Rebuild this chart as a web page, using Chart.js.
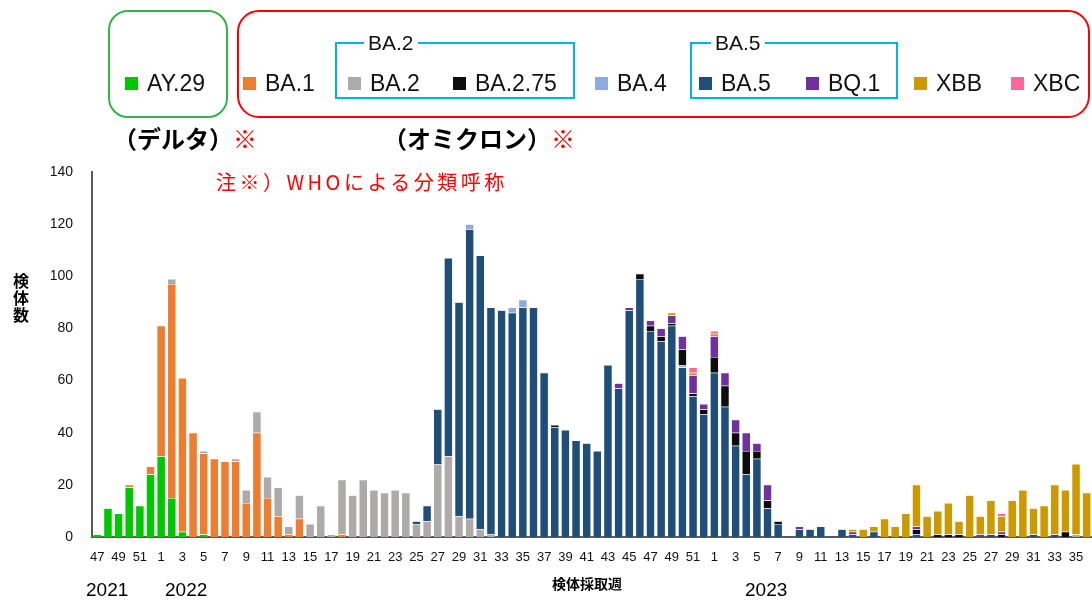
<!DOCTYPE html>
<html lang="ja">
<head>
<meta charset="UTF-8">
<title>検体採取週別 系統</title>
<script src="https://cdn.jsdelivr.net/npm/chart.js"></script>
<style>
    body { margin: 0; background: #fff; font-family: "Liberation Sans", Arial, "Noto Sans CJK JP", sans-serif; }
    #wrap { position: relative; width: 1092px; height: 601px; overflow: hidden; }
    #chart { position: absolute; left: 0; top: 0; }
    .abs { position: absolute; white-space: nowrap; }
    .box { position: absolute; box-sizing: border-box; }
    .sw { display: inline-block; width: 13px; height: 13px; margin-right: 9px; vertical-align: 1px; }
    .lg { font-size: 23px; color: #111; line-height: 26px; }
    .grp { font-size: 21px; color: #111; background: #fff; padding: 0 4px; line-height: 24px; }
    .jp { font-family: "Noto Sans CJK JP", sans-serif; }
</style>
</head>
<body>
<div id="wrap">
    <canvas id="chart" width="1092" height="601"></canvas>

    <!-- legend frames -->
    <div class="box" style="left:108px;top:10px;width:120px;height:108px;border:2.5px solid #33b24f;border-radius:20px;"></div>
    <div class="box" style="left:237px;top:10px;width:853px;height:108px;border:2.5px solid #ff0000;border-radius:22px;"></div>
    <div class="box" style="left:335px;top:42px;width:240px;height:57px;border:2px solid #00b0f0;"></div>
    <div class="box" style="left:690px;top:42px;width:208px;height:57px;border:2px solid #00b0f0;"></div>
    <div class="abs grp" style="left:364px;top:31px;">BA.2</div>
    <div class="abs grp" style="left:711px;top:31px;">BA.5</div>

    <!-- legend items -->
    <div class="abs lg" style="left:125px;top:70px;"><span class="sw" style="background:#00c800"></span>AY.29</div>
    <div class="abs lg" style="left:243px;top:70px;"><span class="sw" style="background:#ed7d31"></span>BA.1</div>
    <div class="abs lg" style="left:348px;top:70px;"><span class="sw" style="background:#aeaaaa"></span>BA.2</div>
    <div class="abs lg" style="left:453px;top:70px;"><span class="sw" style="background:#0d0d0d"></span>BA.2.75</div>
    <div class="abs lg" style="left:595px;top:70px;"><span class="sw" style="background:#8faadc"></span>BA.4</div>
    <div class="abs lg" style="left:699px;top:70px;"><span class="sw" style="background:#1f4e79"></span>BA.5</div>
    <div class="abs lg" style="left:806px;top:70px;"><span class="sw" style="background:#7030a0"></span>BQ.1</div>
    <div class="abs lg" style="left:914px;top:70px;"><span class="sw" style="background:#cc9900"></span>XBB</div>
    <div class="abs lg" style="left:1011px;top:70px;"><span class="sw" style="background:#ff6699"></span>XBC</div>

    <div class="abs jp" style="left:113px;top:120px;font-size:24px;font-weight:bold;">（デルタ）<span style="color:#ff0000;font-weight:normal;">※</span></div>
    <div class="abs jp" style="left:383px;top:120px;font-size:24px;font-weight:bold;">（オミクロン）<span style="color:#ff0000;font-weight:normal;">※</span></div>
    <div class="abs jp" style="left:216px;top:167px;font-size:20px;letter-spacing:3.5px;color:#ff0000;">注※）WHOによる分類呼称</div>

    <!-- axis titles and years -->
    <div class="abs jp" style="left:12px;top:273px;font-size:16px;font-weight:bold;writing-mode:vertical-rl;text-orientation:upright;line-height:18px;letter-spacing:1px;">検体数</div>
    <div class="abs jp" style="left:552px;top:573px;font-size:14px;font-weight:bold;">検体採取週</div>
    <div class="abs" style="left:86px;top:579px;font-size:19px;">2021</div>
    <div class="abs" style="left:165px;top:579px;font-size:19px;">2022</div>
    <div class="abs" style="left:745px;top:579px;font-size:19px;">2023</div>
</div>

<script>
    // 検体採取週 (2021 w47 - 2023 w36)
    const weeks = [
        47, 48, 49, 50, 51, 52,
        1, 2, 3, 4, 5, 6, 7, 8, 9, 10, 11, 12, 13, 14, 15, 16, 17, 18, 19, 20, 21, 22, 23, 24, 25, 26,
        27, 28, 29, 30, 31, 32, 33, 34, 35, 36, 37, 38, 39, 40, 41, 42, 43, 44, 45, 46, 47, 48, 49, 50, 51, 52,
        1, 2, 3, 4, 5, 6, 7, 8, 9, 10, 11, 12, 13, 14, 15, 16, 17, 18, 19, 20, 21, 22, 23, 24, 25, 26,
        27, 28, 29, 30, 31, 32, 33, 34, 35, 36
    ];
    // odd weeks are labelled
    const weekLabels = weeks.map(w => (w % 2 === 1 ? String(w) : ''));

    const ay29 = [
        1, 11, 9, 19, 12, 24, 31, 15, 2, 0,
        1, 0, 0, 0, 0, 0, 0, 0, 0, 0,
        0, 0, 0, 0, 0, 0, 0, 0, 0, 0,
        0, 0, 0, 0, 0, 0, 0, 0, 0, 0,
        0, 0, 0, 0, 0, 0, 0, 0, 0, 0,
        0, 0, 0, 0, 0, 0, 0, 0, 0, 0,
        0, 0, 0, 0, 0, 0, 0, 0, 0, 0,
        0, 0, 0, 0, 0, 0, 0, 0, 0, 0,
        0, 0, 0, 0, 0, 0, 0, 0, 0, 0,
        0, 0, 0, 0
    ];
    const ba1 = [
        0, 0, 0, 1, 0, 3, 50, 82, 59, 40,
        31, 30, 29, 29, 13, 40, 15, 8, 1, 7,
        0, 0, 0, 1, 0, 0, 0, 0, 0, 0,
        0, 0, 0, 0, 0, 0, 0, 0, 0, 0,
        0, 0, 0, 0, 0, 0, 0, 0, 0, 0,
        0, 0, 0, 0, 0, 0, 0, 0, 0, 0,
        0, 0, 0, 0, 0, 0, 0, 0, 0, 0,
        0, 0, 0, 0, 0, 0, 0, 0, 0, 0,
        0, 0, 0, 0, 0, 0, 0, 0, 0, 0,
        0, 0, 0, 0
    ];
    const ba2 = [
        0, 0, 0, 0, 0, 0, 0, 2, 0, 0,
        1, 0, 0, 1, 5, 8, 8, 11, 3, 9,
        5, 12, 1, 21, 16, 22, 18, 17, 18, 17,
        5, 6, 28, 31, 8, 7, 3, 1, 0, 0,
        0, 0, 0, 0, 0, 0, 0, 0, 0, 0,
        0, 0, 0, 0, 0, 0, 0, 0, 0, 0,
        0, 0, 0, 0, 0, 0, 0, 0, 0, 0,
        0, 0, 0, 0, 0, 0, 0, 0, 0, 0,
        0, 0, 0, 0, 0, 0, 0, 0, 0, 0,
        0, 0, 1, 0
    ];
    const ba5 = [
        0, 0, 0, 0, 0, 0, 0, 0, 0, 0,
        0, 0, 0, 0, 0, 0, 0, 0, 0, 0,
        0, 0, 0, 0, 0, 0, 0, 0, 0, 0,
        1, 6, 21, 76, 82, 111, 105, 87, 87, 86,
        88, 88, 63, 42, 41, 37, 36, 33, 66, 57,
        87, 99, 79, 75, 81, 65, 54, 47, 63, 50,
        35, 24, 30, 11, 5, 0, 3, 3, 4, 0,
        3, 1, 0, 2, 0, 0, 0, 1, 0, 0,
        0, 0, 0, 0, 1, 0, 0, 0, 1, 0,
        1, 0, 0, 0
    ];
    const ba4 = [
        0, 0, 0, 0, 0, 0, 0, 0, 0, 0,
        0, 0, 0, 0, 0, 0, 0, 0, 0, 0,
        0, 0, 0, 0, 0, 0, 0, 0, 0, 0,
        0, 0, 0, 0, 0, 2, 0, 0, 0, 2,
        3, 0, 0, 0, 0, 0, 0, 0, 0, 0,
        0, 0, 0, 0, 0, 1, 0, 0, 0, 0,
        0, 0, 0, 0, 0, 0, 0, 0, 0, 0,
        0, 0, 0, 0, 0, 0, 0, 0, 0, 0,
        0, 0, 0, 0, 0, 0, 0, 0, 0, 0,
        0, 0, 0, 0
    ];
    const ba275 = [
        0, 0, 0, 0, 0, 0, 0, 0, 0, 0,
        0, 0, 0, 0, 0, 0, 0, 0, 0, 0,
        0, 0, 0, 0, 0, 0, 0, 0, 0, 0,
        0, 0, 0, 0, 0, 0, 0, 0, 0, 0,
        0, 0, 0, 1, 0, 0, 0, 0, 0, 0,
        0, 2, 2, 2, 1, 6, 1, 2, 6, 8,
        5, 9, 3, 3, 1, 0, 0, 0, 0, 0,
        0, 0, 0, 0, 0, 0, 0, 2, 0, 1,
        1, 1, 0, 0, 0, 1, 0, 0, 0, 0,
        0, 2, 0, 0
    ];
    const bq1 = [
        0, 0, 0, 0, 0, 0, 0, 0, 0, 0,
        0, 0, 0, 0, 0, 0, 0, 0, 0, 0,
        0, 0, 0, 0, 0, 0, 0, 0, 0, 0,
        0, 0, 0, 0, 0, 0, 0, 0, 0, 0,
        0, 0, 0, 0, 0, 0, 0, 0, 0, 2,
        1, 0, 2, 3, 3, 5, 7, 2, 8, 5,
        5, 7, 3, 6, 0, 0, 1, 0, 0, 0,
        0, 1, 0, 0, 0, 0, 0, 1, 0, 0,
        0, 0, 0, 1, 0, 1, 0, 0, 0, 0,
        0, 0, 0, 0
    ];
    const xbb = [
        0, 0, 0, 0, 0, 0, 0, 0, 0, 0,
        0, 0, 0, 0, 0, 0, 0, 0, 0, 0,
        0, 0, 0, 0, 0, 0, 0, 0, 0, 0,
        0, 0, 0, 0, 0, 0, 0, 0, 0, 0,
        0, 0, 0, 0, 0, 0, 0, 0, 0, 0,
        0, 0, 0, 0, 1, 0, 1, 0, 1, 0,
        0, 0, 0, 0, 0, 0, 0, 0, 0, 0,
        0, 1, 3, 2, 7, 4, 9, 16, 8, 9,
        12, 5, 16, 7, 13, 6, 14, 18, 10, 12,
        19, 16, 27, 17
    ];
    const xbc = [
        0, 0, 0, 0, 0, 0, 0, 0, 0, 0,
        0, 0, 0, 0, 0, 0, 0, 0, 0, 0,
        0, 0, 0, 0, 0, 0, 0, 0, 0, 0,
        0, 0, 0, 0, 0, 0, 0, 0, 0, 0,
        0, 0, 0, 0, 0, 0, 0, 0, 0, 0,
        0, 0, 0, 0, 0, 0, 2, 0, 1, 0,
        0, 0, 0, 0, 0, 0, 0, 0, 0, 0,
        0, 0, 0, 0, 0, 0, 0, 0, 0, 0,
        0, 0, 0, 0, 0, 1, 0, 0, 0, 0,
        0, 0, 0, 0
    ];

    function ds(label, data, color) {
        return {
            label: label,
            data: data,
            backgroundColor: color,
            borderColor: 'rgba(255,255,255,0.6)',
            borderWidth: 0.5,
            barPercentage: 0.8,
            categoryPercentage: 1.0
        };
    }

    // stack order bottom -> top as in the picture
    const ctx = document.getElementById('chart').getContext('2d');
    const chart = new Chart(ctx, {
        type: 'bar',
        data: {
            labels: weekLabels,
            datasets: [
                ds('AY.29', ay29, '#00c800'),
                ds('BA.1', ba1, '#ed7d31'),
                ds('BA.2', ba2, '#aeaaaa'),
                ds('BA.5', ba5, '#1f4e79'),
                ds('BA.4', ba4, '#8faadc'),
                ds('BA.2.75', ba275, '#0d0d0d'),
                ds('BQ.1', bq1, '#7030a0'),
                ds('XBB', xbb, '#cc9900'),
                ds('XBC', xbc, '#ff6699')
            ]
        },
        options: {
            responsive: false,
            animation: false,
            layout: { padding: { top: 172, left: 0, right: 0, bottom: 0 } },
            plugins: {
                legend: { display: false },
                tooltip: { enabled: false }
            },
            scales: {
                x: {
                    stacked: true,
                    grid: { display: false },
                    border: { color: '#595959', width: 2 },
                    ticks: {
                        autoSkip: false,
                        maxRotation: 0,
                        minRotation: 0,
                        padding: 5,
                        color: '#111',
                        font: { family: 'Liberation Sans', size: 13 }
                    },
                    afterFit: function(scale) { scale.height = 64; }
                },
                y: {
                    stacked: true,
                    min: 0,
                    max: 140,
                    grid: { display: false },
                    border: { color: '#595959', width: 2 },
                    ticks: {
                        stepSize: 20,
                        padding: 11,
                        color: '#111',
                        font: { family: 'Liberation Sans', size: 14 }
                    },
                    afterFit: function(scale) { scale.width = 92; }
                }
            }
        }
    });
</script>
</body>
</html>
